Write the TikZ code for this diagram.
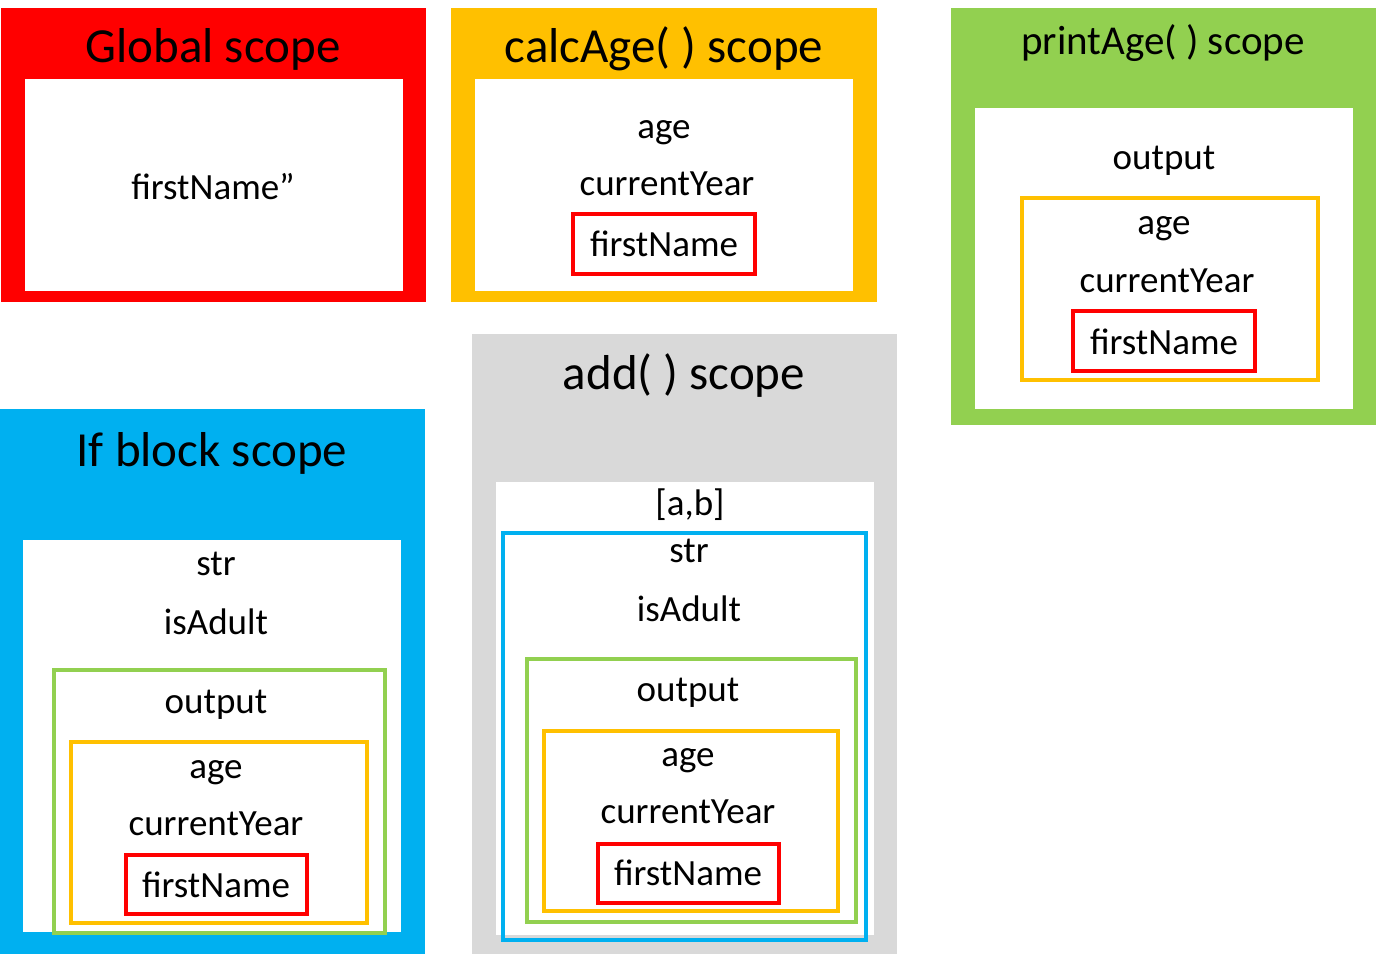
\documentclass[tikz,border=0pt]{standalone}
\usepackage{fontspec}
\setmainfont{Carlito}
\definecolor{globred}{HTML}{FF0000}
\definecolor{calcorange}{HTML}{FFC000}
\definecolor{printgreen}{HTML}{92D050}
\definecolor{ifblue}{HTML}{00B0F0}
\definecolor{addgray}{HTML}{D9D9D9}
\begin{document}
\begin{tikzpicture}[x=0.5pt,y=-0.5pt,
    ttl/.style={anchor=base,font=\fontsize{24.5}{28}\selectfont},
    smallttl/.style={anchor=base,font=\fontsize{20.5}{24}\selectfont},
    txt/.style={anchor=base,font=\fontsize{18.5}{22}\selectfont},
    frame/.style={line width=2.1pt}]
  \useasboundingbox (0,0) rectangle (1376,954);

  % Global scope
  \fill[globred] (1,8) rectangle (426,302);
  \fill[white] (25,79) rectangle (403,291);
  \node[ttl] (globtitle) at (213,62) {Global scope};
  \node[txt] (globname) at (213,199) {firstName”};

  % calcAge() scope
  \fill[calcorange] (451,8) rectangle (877,302);
  \fill[white] (475,79) rectangle (853,291);
  \node[ttl] (calctitle) at (664,62) {calcAge( ) scope};
  \node[txt] (calcage) at (664,138) {age};
  \node[txt] (calcyear) at (667,195) {currentYear};
  \draw[frame, globred] (573,214) rectangle (755,274);
  \node[txt] (calcname) at (664,256) {firstName};

  % printAge() scope
  \fill[printgreen] (951,8) rectangle (1376,425);
  \fill[white] (975,108) rectangle (1353,409);
  \node[smallttl] (printtitle) at (1163,54) {printAge( ) scope};
  \node[txt] (printout) at (1164,169) {output};
  \draw[frame, calcorange] (1022,198) rectangle (1318,380);
  \node[txt] (printage) at (1164,234) {age};
  \node[txt] (printyear) at (1167,292) {currentYear};
  \draw[frame, globred] (1073,311) rectangle (1255,371);
  \node[txt] (printname) at (1164,354) {firstName};

  % If block scope
  \fill[ifblue] (0,409) rectangle (425,954);
  \fill[white] (23,540) rectangle (401,932);
  \node[ttl] (iftitle) at (212,466) {If block scope};
  \node[txt] (ifstr) at (216,575) {str};
  \node[txt] (ifadult) at (216,634) {isAdult};
  \draw[frame, printgreen] (54,670) rectangle (385,933);
  \node[txt] (ifout) at (216,713) {output};
  \draw[frame, calcorange] (71,742) rectangle (367,923);
  \node[txt] (ifage) at (216,778) {age};
  \node[txt] (ifyear) at (216,835) {currentYear};
  \draw[frame, globred] (126,855) rectangle (307,914);
  \node[txt] (ifname) at (216,897) {firstName};

  % add() scope
  \fill[addgray] (472,334) rectangle (897,954);
  \fill[white] (496,482) rectangle (874,935);
  \node[ttl] (addtitle) at (684,389) {add( ) scope};
  \node[txt] (addpair) at (690,515) {[a,b]};
  \draw[frame, ifblue] (503,533) rectangle (866,940);
  \node[txt] (addstr) at (689,562) {str};
  \node[txt] (addadult) at (689,621) {isAdult};
  \draw[frame, printgreen] (527,659) rectangle (856,922);
  \node[txt] (addout) at (688,701) {output};
  \draw[frame, calcorange] (544,731) rectangle (838,911);
  \node[txt] (addage) at (688,766) {age};
  \node[txt] (addyear) at (688,823) {currentYear};
  \draw[frame, globred] (598,844) rectangle (779,903);
  \node[txt] (addname) at (688,885) {firstName};

\end{tikzpicture}
\end{document}
